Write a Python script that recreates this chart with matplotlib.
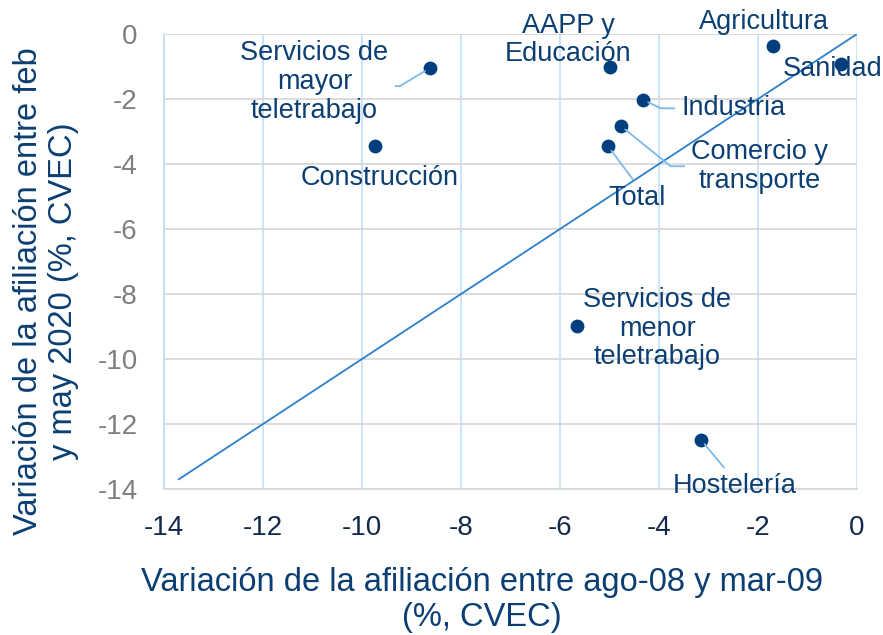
import matplotlib
matplotlib.use("Agg")
import matplotlib.pyplot as plt

plt.rcParams['font.family'] = ['Liberation Sans', 'DejaVu Sans']
plt.rcParams['axes.unicode_minus'] = False

sectors = ["Servicios de\nmayor\nteletrabajo", "AAPP y\nEducación", "Agricultura", "Sanidad",
           "Industria", "Comercio y\ntransporte", "Total", "Construcción",
           "Servicios de\nmenor\nteletrabajo", "Hostelería"]
x_vals = [-8.63, -4.99, -1.70, -0.32, -4.32, -4.77, -5.03, -9.74, -5.66, -3.15]
y_vals = [-1.05, -1.02, -0.37, -0.92, -2.03, -2.83, -3.45, -3.45, -8.98, -12.49]
diag_x = [-13.7, 0.0]
diag_y = [-13.7, 0.0]
x_ticks = [-14, -12, -10, -8, -6, -4, -2, 0]
y_ticks = [0, -2, -4, -6, -8, -10, -12, -14]

NAVY = "#003F7F"
TXT = "#0B3F73"
LIGHT = "#7DB8EC"
VGRID = "#C4DEF8"
HGRID = "#D6D6D6"

fig = plt.figure(figsize=(8.83, 6.35), dpi=100)
ax = fig.add_axes([164/883, 1-489/635, (857-164)/883, (489-34)/635])
ax.set_xlim(-14, 0)
ax.set_ylim(-14, 0)
ax.set_xticks(x_ticks)
ax.set_yticks(y_ticks)
ax.xaxis.grid(True, color=VGRID, lw=1.2)
ax.yaxis.grid(True, color=HGRID, lw=1.2)
ax.set_axisbelow(True)
for s in ["top", "right"]:
    ax.spines[s].set_visible(False)
ax.spines["left"].set_color(VGRID)
ax.spines["bottom"].set_color(HGRID)
ax.spines["left"].set_linewidth(1.2)
ax.spines["bottom"].set_linewidth(1.2)
ax.tick_params(length=0)
ax.tick_params(axis='x', labelsize=20, labelcolor="#13294B", pad=19)
ax.tick_params(axis='y', labelsize=20, labelcolor="#7F7F7F", pad=19)

ax.plot(diag_x, diag_y, color="#2E7FCB", lw=1.3, zorder=2)
ax.scatter(x_vals, y_vals, s=80, color=NAVY, zorder=4, clip_on=False)

# label offsets in points (dx, dy), relpos, connection
layout = {
    "Servicios de\nmayor\nteletrabajo": ((-83, -10), (1.0, 0.45), "angle,angleA=0,angleB=31,rad=0"),
    "AAPP y\nEducación": ((-30, 19.5), None, None),
    "Agricultura": ((-6.5, 17), None, None),
    "Sanidad": ((-6.5, -4), None, None),
    "Industria": ((65, -6), (0.0, 0.5), "angle,angleA=0,angleB=-25,rad=0"),
    "Comercio y\ntransporte": ((100, -29), (0.0, 0.5), "angle,angleA=0,angleB=-39,rad=0"),
    "Total": ((21, -37.5), (0.5, 1.0), "arc3,rad=0"),
    "Construcción": ((3.6, -23), None, None),
    "Servicios de\nmenor\nteletrabajo": ((58, -2), None, None),
    "Hostelería": ((24.5, -33.5), (0.45, 1.0), "arc3,rad=0"),
}

for name, xv, yv in zip(sectors, x_vals, y_vals):
    off, rel, conn = layout[name]
    kw = {}
    if rel is not None:
        kw["arrowprops"] = dict(arrowstyle="-", color=LIGHT, lw=1.3, shrinkA=3, shrinkB=4,
                                relpos=rel, connectionstyle=conn)
    ax.annotate(name, (xv, yv), xytext=off, textcoords="offset points",
                ha="center", va="center", fontsize=19.5, color=TXT,
                linespacing=1.13, annotation_clip=False, zorder=5, **kw)

fig.text(482/883, 1-600/635, "Variación de la afiliación entre ago-08 y mar-09\n(%, CVEC)",
         ha="center", va="center", fontsize=23.5, color=TXT, linespacing=1.14)
fig.text(46/883, 1-291/635, "Variación de la afiliación entre feb\ny may 2020 (%, CVEC)",
         ha="center", va="center", fontsize=23.5, color=TXT, rotation=90, linespacing=1.2)

fig.savefig("out.png", dpi=100)
